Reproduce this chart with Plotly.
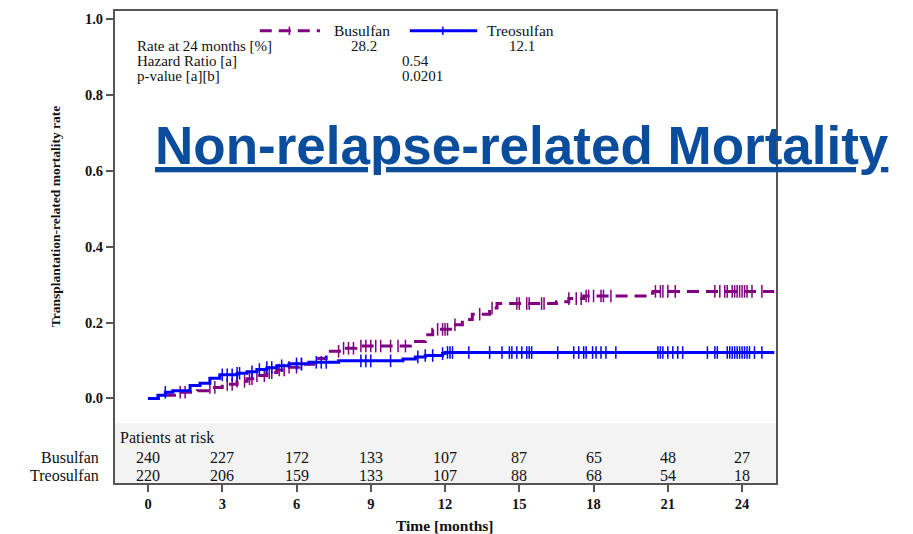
import numpy as np
import plotly.graph_objects as go

# ---- data ----
busu_t = [0, 0.5, 1.2, 2.0, 2.5, 3.0, 3.6, 4.0, 4.4, 4.8, 5.2, 5.6, 6.1, 6.7, 7.2, 7.8, 8.4,
          10.6, 11.2, 11.5, 12.3, 12.7, 13.1, 13.8, 14.1, 16.5, 17.0, 17.6, 20.2, 20.4, 25.3]
busu_y = [0, 0.008, 0.016, 0.02, 0.029, 0.037, 0.045, 0.052, 0.06, 0.068, 0.075, 0.082, 0.09,
          0.105, 0.124, 0.132, 0.138, 0.15, 0.168, 0.182, 0.194, 0.208, 0.222, 0.238, 0.25,
          0.255, 0.263, 0.27, 0.277, 0.282, 0.282]
treo_t = [0, 0.4, 0.7, 1.0, 1.7, 2.1, 2.5, 2.9, 3.6, 4.0, 4.4, 4.8, 5.2, 5.7, 6.5, 7.7,
          10.3, 10.8, 11.2, 11.9, 12.0, 25.3]
treo_y = [0, 0.008, 0.016, 0.02, 0.034, 0.04, 0.053, 0.062, 0.066, 0.07, 0.076, 0.081, 0.086,
          0.091, 0.095, 0.099, 0.104, 0.109, 0.113, 0.118, 0.121, 0.121]

busu_cens = [1.3, 1.5, 2.5, 2.7, 3.2, 3.4, 3.6, 3.9, 4.1, 4.2, 4.4, 4.7, 4.9, 5.0, 5.3, 5.5, 5.7,
             6.0, 6.2, 7.7, 7.9, 8.1, 8.3, 8.6, 8.8, 9.0, 9.2, 9.4, 9.8, 10.1, 10.4, 11.7, 11.9,
             12.0, 12.1, 12.4, 13.4, 13.9, 14.9, 15.0, 15.3, 15.4, 15.9, 16.0, 17.0, 17.3, 17.5,
             17.7, 17.8, 18.0, 18.3, 18.4, 18.7, 20.5, 20.7, 20.8, 21.0, 21.3, 22.9, 23.1, 23.3,
             23.4, 23.6, 23.7, 23.8, 23.9, 24.0, 24.1, 24.2, 24.4, 24.8]
treo_cens = [0.7, 3.0, 3.2, 3.4, 3.6, 3.7, 4.2, 4.5, 4.8, 5.0, 5.4, 6.0, 6.2, 6.8, 7.0, 7.2,
             8.6, 8.8, 9.0, 9.8, 10.9, 11.2, 11.5, 11.9, 12.1, 12.2, 12.3, 12.96, 13.8, 14.3,
             14.6, 14.7, 14.9, 15.1, 15.3, 15.4, 15.5, 16.55, 17.2, 17.4, 17.6, 17.7, 17.96,
             18.1, 18.3, 18.5, 18.9, 20.6, 20.7, 20.8, 21.0, 21.2, 21.4, 21.6, 22.6, 22.9, 23.0,
             23.4, 23.5, 23.6, 23.7, 23.8, 23.9, 24.0, 24.1, 24.2, 24.3, 24.5, 24.8]

risk_times = [0, 3, 6, 9, 12, 15, 18, 21, 24]
risk_busu = [240, 227, 172, 133, 107, 87, 65, 48, 27]
risk_treo = [220, 206, 159, 133, 107, 88, 68, 54, 18]

rate24 = ["28.2", "12.1"]
hazard_ratio = "0.54"
p_value = "0.0201"

PURPLE = "#800080"
BLUE = "#0000ff"
SERIF = "Liberation Serif, Times New Roman, serif"
AXC = "#555555"
TXT = "#111111"


def step_at(ts, ys, cs):
    ts = np.asarray(ts)
    ys = np.asarray(ys)
    idx = np.searchsorted(ts, np.asarray(cs), side="right") - 1
    return ys[idx]


fig = go.Figure()
fig.add_trace(go.Scatter(x=busu_t, y=busu_y, mode="lines", line_shape="hv",
                         line=dict(color=PURPLE, width=3, dash="12px,7px"),
                         showlegend=False, hoverinfo="skip"))
fig.add_trace(go.Scatter(x=busu_cens, y=step_at(busu_t, busu_y, busu_cens), mode="markers",
                         marker=dict(symbol="line-ns-open", size=9, color=PURPLE,
                                     line=dict(color=PURPLE, width=1.5)),
                         showlegend=False, hoverinfo="skip"))
fig.add_trace(go.Scatter(x=treo_t, y=treo_y, mode="lines", line_shape="hv",
                         line=dict(color=BLUE, width=3),
                         showlegend=False, hoverinfo="skip"))
fig.add_trace(go.Scatter(x=treo_cens, y=step_at(treo_t, treo_y, treo_cens), mode="markers",
                         marker=dict(symbol="line-ns-open", size=9, color=BLUE,
                                     line=dict(color=BLUE, width=1.5)),
                         showlegend=False, hoverinfo="skip"))

XR = [-1.333, 25.37]
YR = [-0.223, 1.021]

shapes = [
    dict(type="rect", xref="paper", yref="y", x0=0, x1=1, y0=YR[0], y1=-0.0656,
         fillcolor="#f3f3f3", line=dict(width=0), layer="below"),
    dict(type="line", xref="paper", yref="paper", x0=0.219, x1=0.31, y0=0.958, y1=0.958,
         line=dict(color=PURPLE, width=3, dash="12px,7px")),
    dict(type="line", xref="paper", yref="paper", x0=0.2638, x1=0.2638, y0=0.949, y1=0.967,
         line=dict(color=PURPLE, width=1.5)),
    dict(type="line", xref="paper", yref="paper", x0=0.446, x1=0.548, y0=0.958, y1=0.958,
         line=dict(color=BLUE, width=3)),
    dict(type="line", xref="paper", yref="paper", x0=0.496, x1=0.496, y0=0.949, y1=0.967,
         line=dict(color=BLUE, width=1.5)),
]

ann = []
tf = dict(family=SERIF, size=15.5, color=TXT)
sf = dict(family=SERIF, size=15, color=TXT)
ann.append(dict(text="Busulfan", xref="paper", yref="paper", x=0.328, y=0.958,
                xanchor="left", yanchor="middle", showarrow=False, font=tf))
ann.append(dict(text="Treosulfan", xref="paper", yref="paper", x=0.560, y=0.958,
                xanchor="left", yanchor="middle", showarrow=False, font=tf))
rows_y = [0.926, 0.894, 0.862]
ann.append(dict(text="Rate at 24 months [%]", xref="paper", yref="paper", x=0.030, y=rows_y[0],
                xanchor="left", yanchor="middle", showarrow=False, font=sf))
ann.append(dict(text=rate24[0], xref="paper", yref="paper", x=0.377, y=rows_y[0],
                xanchor="center", yanchor="middle", showarrow=False, font=sf))
ann.append(dict(text=rate24[1], xref="paper", yref="paper", x=0.616, y=rows_y[0],
                xanchor="center", yanchor="middle", showarrow=False, font=sf))
ann.append(dict(text="Hazard Ratio [a]", xref="paper", yref="paper", x=0.030, y=rows_y[1],
                xanchor="left", yanchor="middle", showarrow=False, font=sf))
ann.append(dict(text=hazard_ratio, xref="paper", yref="paper", x=0.431, y=rows_y[1],
                xanchor="left", yanchor="middle", showarrow=False, font=sf))
ann.append(dict(text="p-value [a][b]", xref="paper", yref="paper", x=0.030, y=rows_y[2],
                xanchor="left", yanchor="middle", showarrow=False, font=sf))
ann.append(dict(text=p_value, xref="paper", yref="paper", x=0.431, y=rows_y[2],
                xanchor="left", yanchor="middle", showarrow=False, font=sf))

rf = dict(family=SERIF, size=16, color=TXT)
ann.append(dict(text="Patients at risk", xref="paper", yref="y", x=0.004, y=-0.102,
                xanchor="left", yanchor="middle", showarrow=False, font=rf))
ann.append(dict(text="Busulfan", xref="paper", yref="y", x=-0.021, y=-0.157,
                xanchor="right", yanchor="middle", showarrow=False, font=rf))
ann.append(dict(text="Treosulfan", xref="paper", yref="y", x=-0.021, y=-0.202,
                xanchor="right", yanchor="middle", showarrow=False, font=rf))
for t, b, r in zip(risk_times, risk_busu, risk_treo):
    ann.append(dict(text=str(b), x=t, y=-0.157, xref="x", yref="y", xanchor="center",
                    yanchor="middle", showarrow=False, font=rf))
    ann.append(dict(text=str(r), x=t, y=-0.202, xref="x", yref="y", xanchor="center",
                    yanchor="middle", showarrow=False, font=rf))

ann.append(dict(text="<b>Transplantation-related mortality rate</b>", xref="paper",
                yref="paper", x=-0.091, y=0.565, textangle=-90, xanchor="center",
                yanchor="middle", showarrow=False,
                font=dict(family=SERIF, size=13.5, color=TXT)))
ann.append(dict(text="<b>Time [months]</b>", xref="paper", yref="paper", x=0.498, y=-0.089,
                xanchor="center", yanchor="middle", showarrow=False,
                font=dict(family=SERIF, size=15.5, color=TXT)))

ann.append(dict(text="<b><u>Non-relapse-related Mortality</u></b>", xref="paper",
                yref="paper", x=0.615, y=0.716, xanchor="center", yanchor="middle",
                showarrow=False,
                font=dict(family="Liberation Sans, Arial, sans-serif", size=53,
                          color="#0a4d9c")))

tick_font = dict(family=SERIF, size=14.5, color=TXT)
fig.update_layout(
    width=913, height=534,
    margin=dict(l=115, r=137, t=9, b=51),
    paper_bgcolor="white", plot_bgcolor="white",
    shapes=shapes, annotations=ann, showlegend=False,
    xaxis=dict(range=XR, tickvals=risk_times, ticktext=[f"<b>{v}</b>" for v in risk_times],
               showline=True, linecolor=AXC, linewidth=2, mirror=True, ticks="outside",
               ticklen=7, tickcolor=AXC, tickwidth=1.5, showgrid=False, zeroline=False,
               tickfont=tick_font),
    yaxis=dict(range=YR, tickvals=[0, 0.2, 0.4, 0.6, 0.8, 1.0],
               ticktext=["<b>0.0</b>", "<b>0.2</b>", "<b>0.4</b>", "<b>0.6</b>", "<b>0.8</b>",
                         "<b>1.0</b>"],
               showline=True, linecolor=AXC, linewidth=2, mirror=True, ticks="outside",
               ticklen=7, tickcolor=AXC, tickwidth=1.5, showgrid=False, zeroline=False,
               tickfont=tick_font),
)

fig.write_html("out.html")
